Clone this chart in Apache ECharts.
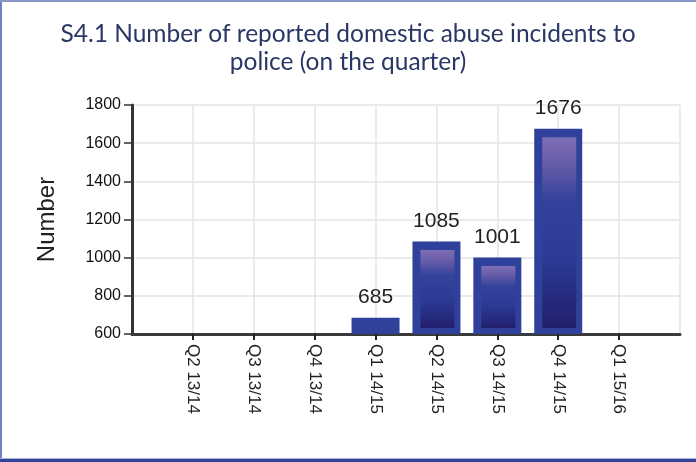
<!DOCTYPE html>
<html>
<head>
<meta charset="utf-8">
<script src="https://cdn.jsdelivr.net/npm/echarts@6/dist/echarts.min.js"></script>
<style>
  html, body { margin: 0; padding: 0; background: #ffffff; }
  #chart { width: 696px; height: 462px; }
</style>
</head>
<body>
<div id="chart"></div>
<script>
// Quarters shown on the horizontal axis
const categories = ['Q2 13/14', 'Q3 13/14', 'Q4 13/14', 'Q1 14/15', 'Q2 14/15', 'Q3 14/15', 'Q4 14/15', 'Q1 15/16'];
// Reported domestic abuse incidents per quarter (no figure for the empty quarters)
const incidents = [null, null, null, 685, 1085, 1001, 1676, null];
// Vertical axis range
const yMin = 600;
const yMax = 1800;
const yStep = 200;

// The axis carries a blank slot at each end so the quarters sit inside the frame
const axisCategories = [''].concat(categories, ['']);
const axisValues = [null].concat(incidents, [null]);
const innerData = axisValues.map((v, i) => [i, v]);

const chart = echarts.init(document.getElementById('chart'), null, { renderer: 'canvas' });

const innerFill = new echarts.graphic.LinearGradient(0, 0, 0, 1, [
  { offset: 0.00, color: '#7d6eb4' },
  { offset: 0.12, color: '#6c5fab' },
  { offset: 0.33, color: '#34429b' },
  { offset: 0.62, color: '#2d3b96' },
  { offset: 0.80, color: '#272e84' },
  { offset: 1.00, color: '#221f6c' }
]);

chart.setOption({
  animation: false,
  backgroundColor: '#ffffff',
  title: {
    text: 'S4.1 Number of reported domestic abuse incidents to\npolice (on the quarter)',
    left: 'center',
    top: 15,
    textStyle: {
      fontFamily: 'Lato',
      fontWeight: 'normal',
      fontSize: 24.5,
      lineHeight: 28,
      color: '#2a3764'
    }
  },
  grid: { left: 132, right: 16, top: 105, bottom: 128 },
  xAxis: {
    type: 'category',
    data: axisCategories,
    boundaryGap: false,
    axisLine: { lineStyle: { color: '#3a3a3a', width: 3 } },
    axisTick: {
      length: 6,
      interval: (i, v) => v !== '',
      lineStyle: { color: '#222', width: 2 }
    },
    axisLabel: {
      rotate: -90,
      margin: 10,
      interval: 0,
      fontFamily: 'Liberation Sans',
      fontSize: 17,
      color: '#222'
    },
    splitLine: { show: true, lineStyle: { color: '#e4e4e4', width: 1.5 } }
  },
  yAxis: {
    type: 'value',
    min: yMin,
    max: yMax,
    interval: yStep,
    name: 'Number',
    nameLocation: 'middle',
    nameGap: 73,
    nameTextStyle: { fontFamily: 'Liberation Sans', fontSize: 24, color: '#222' },
    axisLine: { show: true, lineStyle: { color: '#333', width: 3 } },
    axisTick: { show: true, length: 8, lineStyle: { color: '#333', width: 1.5 } },
    axisLabel: {
      margin: 11,
      fontFamily: 'Liberation Sans',
      fontSize: 16,
      color: '#111',
      formatter: v => String(v)
    },
    splitLine: { show: true, lineStyle: { color: '#e4e4e4', width: 1.5 } }
  },
  series: [
    {
      type: 'bar',
      data: axisValues,
      barWidth: 48,
      itemStyle: { color: '#2f419a' },
      label: {
        show: true,
        position: 'top',
        distance: 10,
        fontFamily: 'Liberation Sans',
        fontSize: 21,
        color: '#222'
      },
      z: 2
    },
    {
      type: 'custom',
      data: innerData,
      encode: { x: 0, y: 1 },
      z: 3,
      silent: true,
      renderItem: function (params, api) {
        const v = api.value(1);
        if (v == null || isNaN(v)) return;
        const top = api.coord([api.value(0), v]);
        const base = api.coord([api.value(0), yMin]);
        const w = 48;
        const x0 = top[0] - w / 2;
        const y0 = top[1] + 8.5;
        const y1 = base[1] - 6;
        if (y1 - y0 < 6) return;
        return {
          type: 'rect',
          shape: { x: x0 + 8, y: y0, width: w - 14, height: y1 - y0 },
          style: { fill: innerFill }
        };
      }
    }
  ],
  graphic: [
    { type: 'rect', left: 0, top: 0, shape: { width: 2, height: 462 }, style: { fill: '#6f80c6' }, z: 10 },
    { type: 'rect', left: 0, top: 0, shape: { width: 696, height: 2 }, style: { fill: '#8b96c9' }, z: 10 },
    { type: 'rect', left: 0, top: 458, shape: { width: 696, height: 1 }, style: { fill: '#a9b3dc' }, z: 10 },
    { type: 'rect', left: 0, top: 459, shape: { width: 696, height: 3 }, style: { fill: '#33439a' }, z: 10 }
  ]
});
</script>
</body>
</html>
